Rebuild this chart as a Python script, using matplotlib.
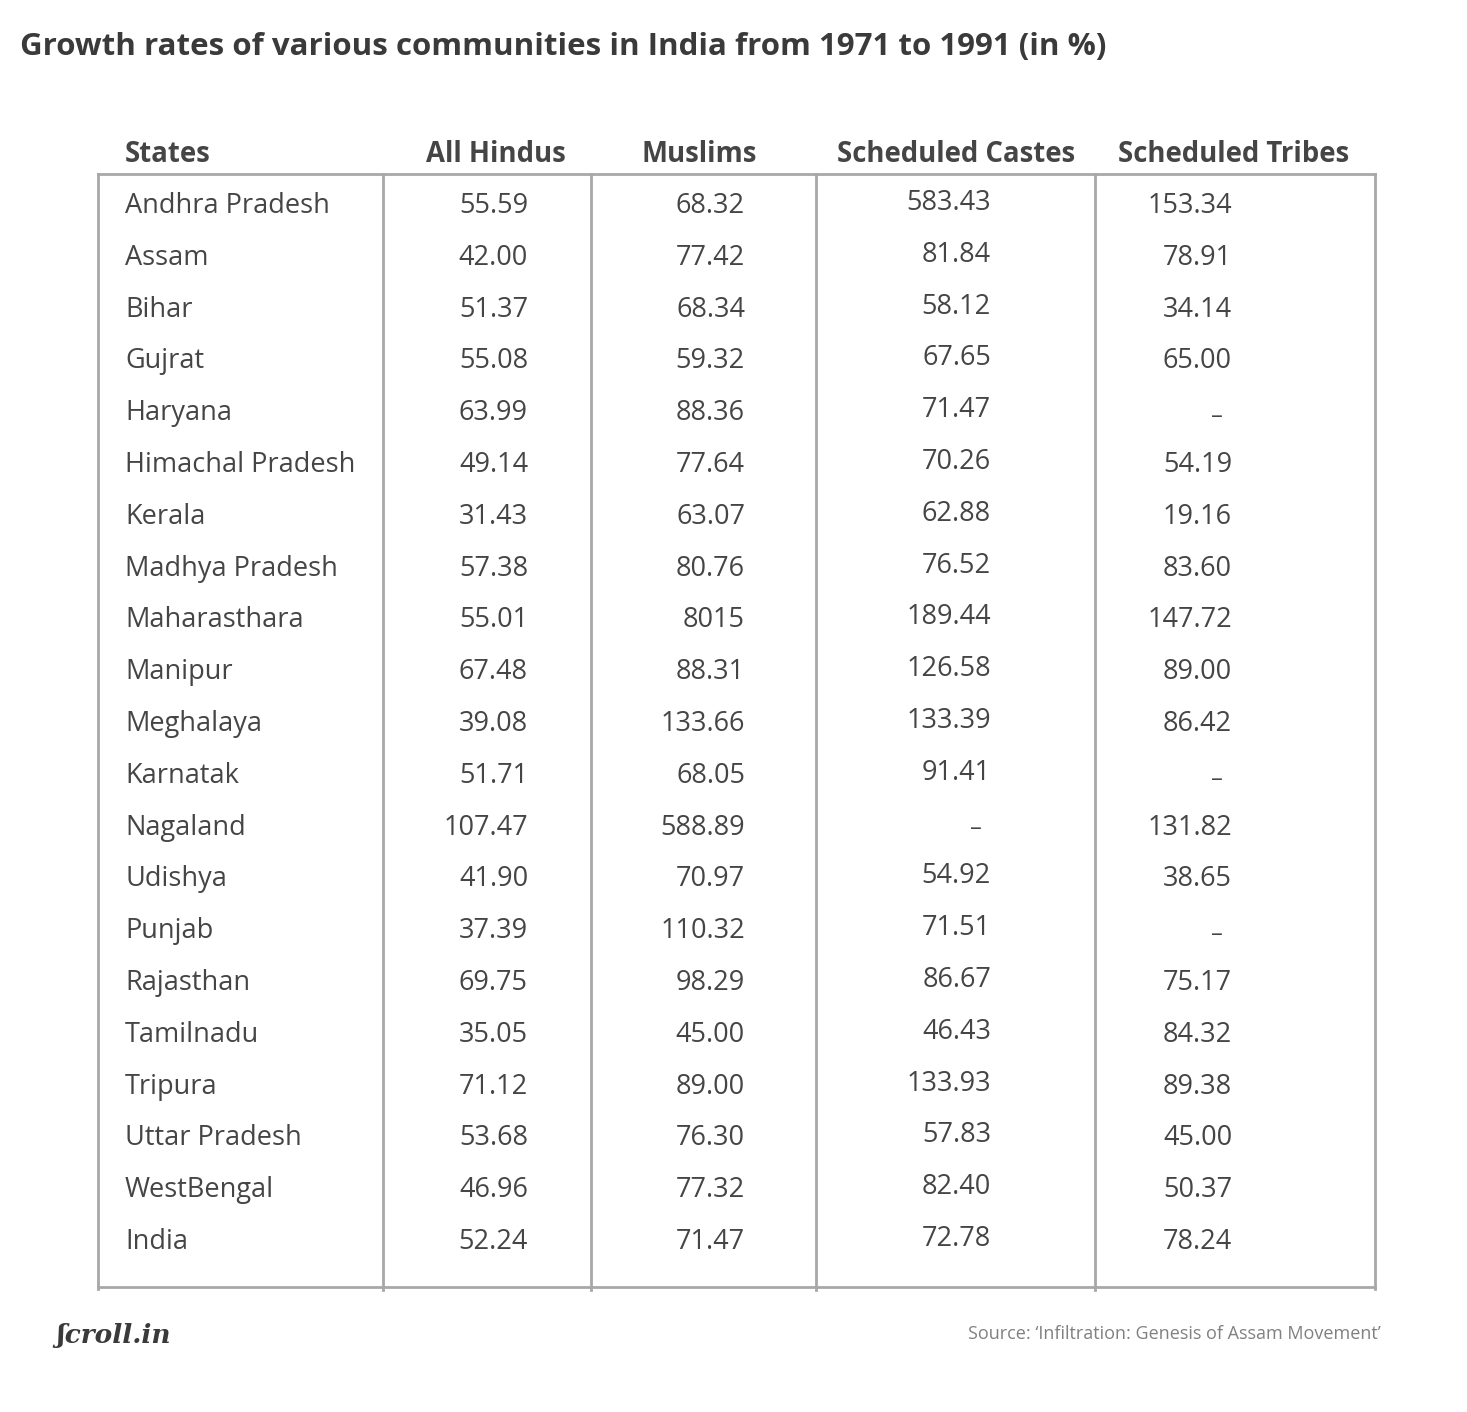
import matplotlib

matplotlib.use("Agg")
import matplotlib.pyplot as plt

# data as printed in the table (strings keep the original formatting)
states = [
    "Andhra Pradesh", "Assam", "Bihar", "Gujrat", "Haryana", "Himachal Pradesh",
    "Kerala", "Madhya Pradesh", "Maharasthara", "Manipur", "Meghalaya",
    "Karnatak", "Nagaland", "Udishya", "Punjab", "Rajasthan", "Tamilnadu",
    "Tripura", "Uttar Pradesh", "WestBengal", "India",
]
all_hindus = [
    "55.59", "42.00", "51.37", "55.08", "63.99", "49.14", "31.43", "57.38",
    "55.01", "67.48", "39.08", "51.71", "107.47", "41.90", "37.39", "69.75",
    "35.05", "71.12", "53.68", "46.96", "52.24",
]
muslims = [
    "68.32", "77.42", "68.34", "59.32", "88.36", "77.64", "63.07", "80.76",
    "8015", "88.31", "133.66", "68.05", "588.89", "70.97", "110.32", "98.29",
    "45.00", "89.00", "76.30", "77.32", "71.47",
]
sched_castes = [
    "583.43", "81.84", "58.12", "67.65", "71.47", "70.26", "62.88", "76.52",
    "189.44", "126.58", "133.39", "91.41", None, "54.92", "71.51", "86.67",
    "46.43", "133.93", "57.83", "82.40", "72.78",
]
sched_tribes = [
    "153.34", "78.91", "34.14", "65.00", None, "54.19", "19.16", "83.60",
    "147.72", "89.00", "86.42", None, "131.82", "38.65", None, "75.17",
    "84.32", "89.38", "45.00", "50.37", "78.24",
]
headers = ["States", "All Hindus", "Muslims", "Scheduled Castes", "Scheduled Tribes"]

TITLE = "Growth rates of various communities in India from 1971 to 1991 (in %)"
SOURCE = "Source: \u2018Infiltration: Genesis of Assam Movement\u2019"

W, H = 1467, 1412
TEXT = "#454545"
LINE = "#a8a8a8"
FONT = ["Open Sans", "DejaVu Sans"]

fig = plt.figure(figsize=(W / 100, H / 100), dpi=100)
ax = fig.add_axes([0, 0, 1, 1])
ax.set_xlim(0, W)
ax.set_ylim(H, 0)
ax.axis("off")

# table frame
left, right, top, bottom = 98, 1375, 174, 1287
col_lines = [383, 591, 816, 1095]
ax.plot([left, right], [top, top], color=LINE, lw=2)
ax.plot([left, right], [bottom, bottom], color=LINE, lw=2)
for x in [left, right]:
    ax.plot([x, x], [top, bottom + 2], color=LINE, lw=2)
for x in col_lines:
    ax.plot([x, x], [top, bottom + 3], color=LINE, lw=2)

# headers
hdr_x = [125, 496, 699, 956, 1234]
hdr_ha = ["left", "center", "center", "center", "center"]
for h, x, ha in zip(headers, hdr_x, hdr_ha):
    ax.text(x, 154, h, ha=ha, va="center", fontsize=19.8, fontweight="bold",
            color=TEXT, family=FONT)

# rows
y0, step = 206, 51.8
value_cols = [
    (all_hindus, 528, 0),
    (muslims, 745, 0),
    (sched_castes, 991, -3),
    (sched_tribes, 1232, 0),
]
for i, name in enumerate(states):
    y = y0 + i * step
    ax.text(125, y, name, ha="left", va="center", fontsize=19.5, color=TEXT,
            family=FONT)
    for vals, xr, dy in value_cols:
        v = vals[i]
        if v is None:
            ax.text(xr - 15, y + 4 + dy, "\u2013", ha="center", va="center",
                    fontsize=17, color=TEXT, family=FONT)
        else:
            ax.text(xr, y + dy, v, ha="right", va="center", fontsize=19.5,
                    color=TEXT, family=FONT)

ax.text(20, 47, TITLE, ha="left", va="center", fontsize=22.5,
        fontweight="bold", color="#3a3a3a", family=FONT)

ax.text(56, 1335, "\u0283croll.in", ha="left", va="center", fontsize=19,
        fontweight="bold", style="italic", color="#3a3a3a",
        family=["DejaVu Serif"])

ax.text(1381, 1334, SOURCE, ha="right", va="center", fontsize=13,
        color="#808080", family=FONT)

fig.savefig("out.png", dpi=100, facecolor="white")
